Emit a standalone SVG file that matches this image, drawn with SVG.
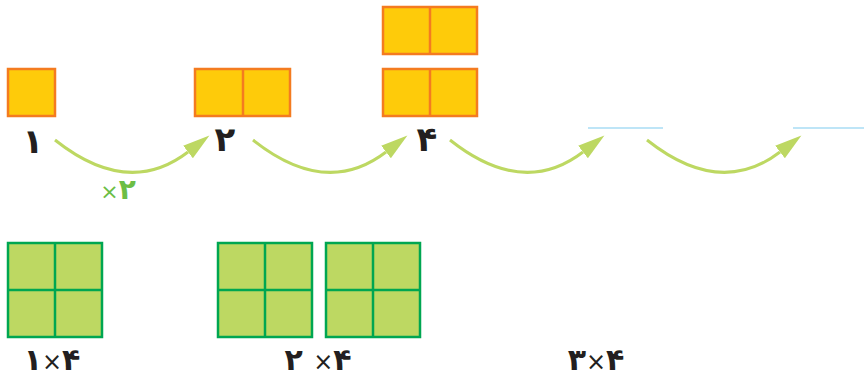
<svg xmlns="http://www.w3.org/2000/svg" width="864" height="376" viewBox="0 0 864 376">
<defs>
<style>
.o{fill:#FECB0A;stroke:#F47B20;stroke-width:2.5}
.ol{stroke:#F47B20;stroke-width:2.5}
.g{fill:#BDD862;stroke:#00A651;stroke-width:2.5}
.gl{stroke:#00A651;stroke-width:2.5}
.arc{fill:none;stroke:#BDD862;stroke-width:3;marker-end:url(#ah)}
.bl{stroke:#A8DDF5;stroke-width:1.5}
.n{font-family:"DejaVu Sans",sans-serif;font-weight:bold;font-size:34px;fill:#231F20;text-anchor:middle}
.m{font-family:"DejaVu Sans",sans-serif;font-weight:bold;font-size:30px;fill:#231F20;text-anchor:middle}
.x{font-weight:normal;font-size:24px}
.gt{font-family:"DejaVu Sans",sans-serif;font-weight:bold;font-size:28px;fill:#6CBE45;text-anchor:middle}
.gx{font-weight:normal;font-size:22px}
</style>
<marker id="ah" markerUnits="userSpaceOnUse" markerWidth="30" markerHeight="20" refX="0" refY="8" orient="auto" viewBox="0 0 30 16">
<path d="M0,0 L27,8 L0,16 z" fill="#BDD862"/>
</marker>
</defs>
<g id="node-1">
<rect class="o" x="8" y="69" width="47" height="47"/>
<text class="n" x="33" y="153">۱</text>
</g>
<g id="node-2">
<rect class="o" x="195" y="69" width="95" height="47"/>
<line class="ol" x1="243" y1="69" x2="243" y2="116"/>
<text class="n" x="225" y="151">۲</text>
</g>
<g id="node-4">
<rect class="o" x="383" y="7" width="94" height="47"/>
<line class="ol" x1="430" y1="7" x2="430" y2="54"/>
<rect class="o" x="383" y="69" width="94" height="47"/>
<line class="ol" x1="430" y1="69" x2="430" y2="116"/>
<text class="n" x="427" y="151">۴</text>
</g>
<g id="blank-1">
<line class="bl" x1="588" y1="128" x2="663" y2="128"/>
</g>
<g id="blank-2">
<line class="bl" x1="793" y1="128" x2="864" y2="128"/>
</g>
<g id="connectors">
<path class="arc" d="M55,140 Q128,198 188,152"/>
<path class="arc" d="M253,140 Q326,198 386,152"/>
<path class="arc" d="M450,140 Q523,198 583,152"/>
<path class="arc" d="M647,140 Q720,198 780,152"/>
<text class="gt" x="118" y="199"><tspan class="gx">×</tspan>۲</text>
</g>
<g id="grid-1">
<rect class="g" x="8" y="243" width="94" height="94"/>
<line class="gl" x1="55" y1="243" x2="55" y2="337"/>
<line class="gl" x1="8" y1="290" x2="102" y2="290"/>
<text class="m" x="52" y="370">۱<tspan class="x">×</tspan>۴</text>
</g>
<g id="grid-2">
<rect class="g" x="218" y="243" width="94" height="94"/>
<line class="gl" x1="265" y1="243" x2="265" y2="337"/>
<line class="gl" x1="218" y1="290" x2="312" y2="290"/>
<rect class="g" x="326" y="243" width="94" height="94"/>
<line class="gl" x1="373" y1="243" x2="373" y2="337"/>
<line class="gl" x1="326" y1="290" x2="420" y2="290"/>
<text class="m" x="318" y="370">۲ <tspan class="x">×</tspan>۴</text>
</g>
<g id="label-3">
<text class="m" x="596" y="370">۳<tspan class="x">×</tspan>۴</text>
</g>
</svg>
